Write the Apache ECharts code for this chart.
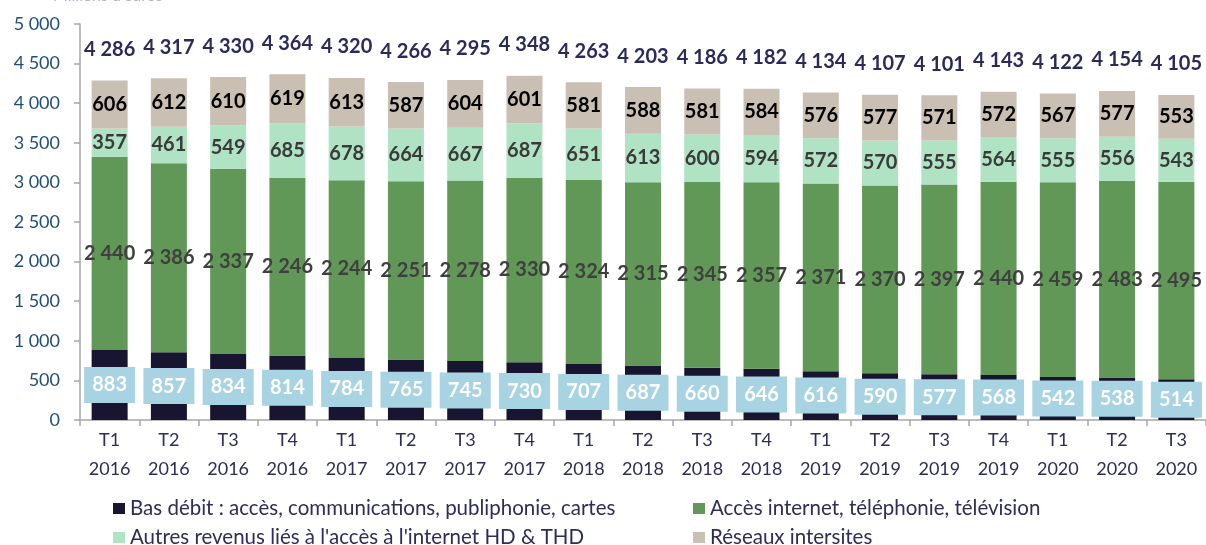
<!DOCTYPE html>
<html>
<head>
<meta charset="utf-8">
<script src="https://cdn.jsdelivr.net/npm/echarts@6/dist/echarts.min.js"></script>
<style>
  html, body { margin: 0; padding: 0; background: #fff; }
  #main { width: 1206px; height: 545px; }
</style>
</head>
<body>
<div id="main"></div>
<script>
// trimestres
var categories = ['T1\n2016', 'T2\n2016', 'T3\n2016', 'T4\n2016',
  'T1\n2017', 'T2\n2017', 'T3\n2017', 'T4\n2017',
  'T1\n2018', 'T2\n2018', 'T3\n2018', 'T4\n2018',
  'T1\n2019', 'T2\n2019', 'T3\n2019', 'T4\n2019',
  'T1\n2020', 'T2\n2020', 'T3\n2020'];
// Bas débit
var basDebit = [883, 857, 834, 814, 784, 765, 745, 730, 707, 687, 660, 646, 616, 590, 577, 568, 542, 538, 514];
// Accès internet, téléphonie, télévision
var accesInternet = [2440, 2386, 2337, 2246, 2244, 2251, 2278, 2330, 2324, 2315, 2345, 2357, 2371, 2370, 2397, 2440, 2459, 2483, 2495];
// Autres revenus HD & THD
var autresRevenus = [357, 461, 549, 685, 678, 664, 667, 687, 651, 613, 600, 594, 572, 570, 555, 564, 555, 556, 543];
// Réseaux intersites
var reseaux = [606, 612, 610, 619, 613, 587, 604, 601, 581, 588, 581, 584, 576, 577, 571, 572, 567, 577, 553];
// totaux affichés
var totals = [4286, 4317, 4330, 4364, 4320, 4266, 4295, 4348, 4263, 4203, 4186, 4182, 4134, 4107, 4101, 4143, 4122, 4154, 4105];

var names = ['Bas débit : accès, communications, publiphonie, cartes',
  'Accès internet, téléphonie, télévision',
  "Autres revenus liés à l'accès à l'internet HD & THD",
  'Réseaux intersites'];

function fmt(v) {
  return String(v).replace(/\B(?=(\d{3})+(?!\d))/g, ' ');
}

var font = 'Lato, "Noto Sans", sans-serif';
var chart = echarts.init(document.getElementById('main'));

//une légende par case (2 colonnes x 2 lignes)
function legendAt(name, left, top) {
  return {
    data: [name],
    left: left,
    top: top,
    itemWidth: 12,
    itemHeight: 11,
    icon: 'rect',
    padding: 0,
    textStyle: { fontSize: 20.5, color: '#2e2c5a', fontFamily: font }
  };
}

var option = {
  animation: false,
  textStyle: { fontFamily: font },
  title: {
    text: "Millions d'euros",
    left: 48,
    top: -17,
    textStyle: { fontSize: 16, fontWeight: 'normal', color: '#b3b1c9', fontFamily: font }
  },
  grid: { left: 80, right: 0, top: 24, bottom: 125 },
  legend: [
    legendAt(names[0], 113, 498),
    legendAt(names[2], 113, 527),
    legendAt(names[1], 693, 498),
    legendAt(names[3], 693, 527)
  ],
  xAxis: {
    type: 'category',
    data: categories,
    axisLine: { lineStyle: { color: '#a6a6a6', width: 1.5 } },
    axisTick: { show: true, length: 6, lineStyle: { color: '#a6a6a6', width: 1.5 } },
    axisLabel: { fontSize: 18, color: '#2e2c5a', lineHeight: 29, margin: 6, interval: 0, fontFamily: font }
  },
  yAxis: {
    type: 'value',
    min: 0,
    max: 5000,
    interval: 500,
    splitLine: { show: false },
    axisLine: { show: true, lineStyle: { color: '#a6a6a6', width: 1.5 } },
    axisTick: { show: true, length: 6, lineStyle: { color: '#a6a6a6', width: 1.5 } },
    axisLabel: { fontSize: 18, color: '#1f4e79', margin: 20, formatter: fmt, fontFamily: font }
  },
  series: [{
    name: names[0],
    type: 'bar',
    stack: 'total',
    barWidth: 36,
    data: basDebit,
    itemStyle: { color: '#17152f' },
    label: {
      show: true,
      position: 'inside',
      formatter: function (p) { return fmt(p.value); },
      color: '#ffffff',
      fontSize: 20,
      fontWeight: 'bold',
      backgroundColor: '#a7d3e2',
      width: 37,
      align: 'center',
      padding: [7, 7],
      lineHeight: 22,
      fontFamily: font
    }
  }, {
    name: names[1],
    type: 'bar',
    stack: 'total',
    data: accesInternet,
    itemStyle: { color: '#619757' },
    label: {
      show: true,
      position: 'inside',
      formatter: function (p) { return fmt(p.value); },
      color: '#3f3f3f',
      fontSize: 20,
      fontWeight: 'bold',
      fontFamily: font
    }
  }, {
    name: names[2],
    type: 'bar',
    stack: 'total',
    data: autresRevenus,
    itemStyle: { color: '#b0e2c4' },
    label: {
      show: true,
      position: 'inside',
      formatter: function (p) { return fmt(p.value); },
      color: '#3a3a3a',
      fontSize: 20,
      fontWeight: 'bold',
      fontFamily: font
    }
  }, {
    name: names[3],
    type: 'bar',
    stack: 'total',
    data: reseaux,
    itemStyle: { color: '#c9bfb2' },
    label: {
      show: true,
      position: 'inside',
      formatter: function (p) { return fmt(p.value); },
      color: '#000000',
      fontSize: 20,
      fontWeight: 'bold',
      fontFamily: font
    }
  }, {
    name: 'Total',
    type: 'scatter',
    data: totals,
    symbolSize: 0,
    silent: true,
    itemStyle: { opacity: 1 },
    label: {
      show: true,
      position: 'top',
      distance: 21,
      formatter: function (p) { return fmt(p.value); },
      color: '#2b2a5c',
      fontSize: 20,
      fontWeight: 'bold',
      fontFamily: font
    }
  }]
};

chart.setOption(option);
</script>
</body>
</html>
